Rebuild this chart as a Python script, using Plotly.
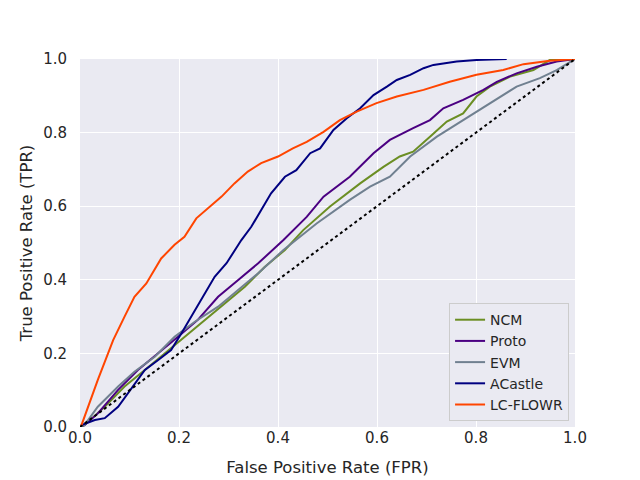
import plotly.graph_objects as go

# ROC curve points (FPR, TPR)
ncm_fpr = [0.0, 0.009, 0.050, 0.090, 0.131, 0.171, 0.211, 0.252, 0.292, 0.333, 0.373, 0.414, 0.451,
           0.505, 0.566, 0.613, 0.646, 0.673, 0.707, 0.741, 0.774, 0.801, 0.828, 0.869, 0.916, 0.949, 1.0]
ncm_tpr = [0.0, 0.005, 0.055, 0.110, 0.155, 0.200, 0.245, 0.291, 0.336, 0.381, 0.435, 0.481, 0.535,
           0.599, 0.662, 0.707, 0.735, 0.748, 0.789, 0.830, 0.852, 0.898, 0.925, 0.952, 0.970, 0.997, 1.0]

proto_fpr = [0.0, 0.009, 0.036, 0.077, 0.117, 0.158, 0.198, 0.238, 0.279, 0.319, 0.360, 0.411, 0.458,
             0.492, 0.545, 0.593, 0.626, 0.673, 0.707, 0.734, 0.774, 0.815, 0.842, 0.882, 0.923, 0.963, 1.0]
proto_tpr = [0.0, 0.005, 0.037, 0.101, 0.155, 0.200, 0.245, 0.291, 0.354, 0.399, 0.445, 0.508, 0.571,
             0.626, 0.680, 0.744, 0.780, 0.812, 0.834, 0.866, 0.889, 0.916, 0.938, 0.961, 0.979, 0.993, 1.0]

evm_fpr = [0.0, 0.009, 0.036, 0.077, 0.110, 0.151, 0.191, 0.232, 0.279, 0.319, 0.360, 0.411, 0.478,
           0.545, 0.586, 0.626, 0.667, 0.721, 0.774, 0.828, 0.882, 0.929, 0.963, 1.0]
evm_tpr = [0.0, 0.005, 0.055, 0.110, 0.150, 0.191, 0.245, 0.286, 0.327, 0.372, 0.418, 0.481, 0.553,
           0.617, 0.653, 0.680, 0.735, 0.789, 0.834, 0.880, 0.925, 0.948, 0.970, 1.0]

acastle_fpr = [0.0, 0.003, 0.030, 0.050, 0.077, 0.104, 0.131, 0.158, 0.184, 0.205, 0.225, 0.248, 0.272,
               0.296, 0.326, 0.346, 0.366, 0.386, 0.414, 0.437, 0.465, 0.485, 0.512, 0.539, 0.566, 0.593,
               0.620, 0.640, 0.667, 0.694, 0.714, 0.761, 0.801, 0.862]
acastle_tpr = [0.0, 0.005, 0.019, 0.024, 0.055, 0.105, 0.155, 0.182, 0.209, 0.255, 0.300, 0.354, 0.408,
               0.445, 0.508, 0.544, 0.590, 0.635, 0.680, 0.698, 0.744, 0.757, 0.807, 0.839, 0.866, 0.902,
               0.925, 0.943, 0.957, 0.975, 0.984, 0.993, 0.997, 1.0]

lcflowr_fpr = [0.0, 0.003, 0.036, 0.067, 0.090, 0.110, 0.134, 0.164, 0.191, 0.211, 0.235, 0.255, 0.286,
               0.312, 0.339, 0.366, 0.400, 0.430, 0.458, 0.492, 0.525, 0.559, 0.599, 0.640, 0.694, 0.747,
               0.801, 0.855, 0.896, 0.949, 1.0]
lcflowr_tpr = [0.0, 0.005, 0.128, 0.236, 0.300, 0.354, 0.390, 0.458, 0.495, 0.517, 0.567, 0.590, 0.626,
               0.662, 0.694, 0.717, 0.735, 0.757, 0.775, 0.802, 0.834, 0.857, 0.880, 0.898, 0.916, 0.938,
               0.957, 0.970, 0.986, 0.995, 1.0]

chance = [0.0, 1.0]

curves = [
    ("NCM", ncm_fpr, ncm_tpr, "#6b8e23"),
    ("Proto", proto_fpr, proto_tpr, "#4b0082"),
    ("EVM", evm_fpr, evm_tpr, "#708090"),
    ("ACastle", acastle_fpr, acastle_tpr, "#000080"),
    ("LC-FLOWR", lcflowr_fpr, lcflowr_tpr, "#ff4500"),
]

FONT = "DejaVu Sans"
TEXT_COLOR = "#262626"

fig = go.Figure()

for name, fpr, tpr, colour in curves:
    fig.add_trace(go.Scatter(x=fpr, y=tpr, mode="lines", name=name,
                             line=dict(color=colour, width=2)))

# chance line
fig.add_trace(go.Scatter(x=chance, y=chance, mode="lines", showlegend=False,
                         line=dict(color="black", width=2, dash="dot")))

# page has an 8px body margin, so the figure is shrunk to fit the 640x480 window
fig.update_layout(
    width=632, height=472,
    margin=dict(l=72, r=65, t=51, b=53),
    paper_bgcolor="white",
    plot_bgcolor="#eaeaf2",
    font=dict(family=FONT, size=15, color=TEXT_COLOR),
    legend=dict(x=0.988, y=0.016, xanchor="right", yanchor="bottom",
                bgcolor="#eaeaf2", bordercolor="#cccccc", borderwidth=1,
                font=dict(size=14), traceorder="normal", itemwidth=30),
)

fig.update_xaxes(range=[0, 1], tickvals=[0, 0.2, 0.4, 0.6, 0.8, 1.0], tickformat=".1f",
                 showgrid=True, gridcolor="white", gridwidth=1.3, zeroline=False,
                 showline=False, ticklabelstandoff=0, automargin=False,
                 title=dict(text="False Positive Rate (FPR)", font=dict(size=16.5), standoff=15))
fig.update_yaxes(range=[0, 1], tickvals=[0, 0.2, 0.4, 0.6, 0.8, 1.0], tickformat=".1f",
                 showgrid=True, gridcolor="white", gridwidth=1.3, zeroline=False,
                 showline=False, ticklabelstandoff=12, automargin=False,
                 title=dict(text="True Positive Rate (TPR)", font=dict(size=16.5), standoff=6))

fig.write_html("out.html")
